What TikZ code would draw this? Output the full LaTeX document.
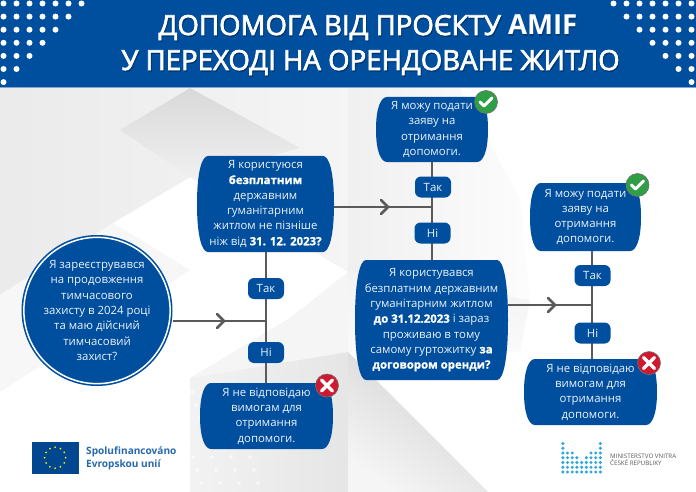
\documentclass[tikz,border=0pt]{standalone}
\usepackage{fontspec}
\setmainfont{Open Sans}
\newfontfamily\titlefont[FakeBold=2.5]{Open Sans}
\newfontfamily\heavyfont[FakeBold=1]{Open Sans Bold}
\usetikzlibrary{calc}
\definecolor{eublue}{HTML}{004F9F}
\definecolor{linegray}{HTML}{5A5A5A}
\definecolor{okgreen}{HTML}{2F9E44}
\definecolor{nored}{HTML}{D0182F}
\definecolor{mvblue}{HTML}{2FA8E0}
\definecolor{tbody}{HTML}{EEF2F8}
\newcommand{\hv}[1]{{\heavyfont\color{white}#1}}
\tikzset{
  x=1pt,y=-1pt,
  flowtext/.style={rectangle,text=tbody,inner sep=0pt,align=center,font=\fontsize{11.4}{15.3}\selectfont},
  yesno/.style={rectangle,rounded corners=6pt,fill=eublue,text=tbody,inner sep=0pt,minimum width=36pt,minimum height=21pt,font=\fontsize{11.4}{13}\selectfont},
  conn/.style={draw=linegray,line width=2pt},
  chev/.style={draw=linegray,line width=2.6pt,line cap=round,line join=round},
  badge/.style={circle,minimum size=23pt,inner sep=0pt,draw=black!55,line width=.6pt},
  titletxt/.style={text=white,font=\fontsize{27.6}{28}\titlefont,inner sep=0pt,anchor=base},
  logotxt/.style={anchor=base west,inner sep=0,text=eublue!85!white,font=\fontsize{10.1}{11}\selectfont\bfseries},
  mvtxt/.style={anchor=base west,inner sep=0,text=black!65,font=\fontsize{6.2}{7}\selectfont},
}
% name, x0, y0, x1, y1, side bulge, text
\newcommand{\flowbox}[7]{%
  \pgfmathsetmacro{\ym}{(#3+#5)/2}%
  \pgfmathsetmacro{\yc}{(#5-#3)*0.34}%
  \fill[eublue] ({#2+#6+3},#3) -- ({#4-#6-3},#3)
    .. controls ({#4-#6+3},#3) and (#4,{\ym-\yc}) .. (#4,\ym)
    .. controls (#4,{\ym+\yc}) and ({#4-#6+3},#5) .. ({#4-#6-3},#5)
    -- ({#2+#6+3},#5)
    .. controls ({#2+#6-3},#5) and (#2,{\ym+\yc}) .. (#2,\ym)
    .. controls (#2,{\ym-\yc}) and ({#2+#6-3},#3) .. ({#2+#6+3},#3) -- cycle;
  \node[flowtext,minimum width={(#4-#2)*1pt},minimum height={(#5-#3)*1pt}] (#1) at ({(#2+#4)/2},\ym) {#7};%
}
\begin{document}
\begin{tikzpicture}
\useasboundingbox (0,0) rectangle (696,492);
% background
\fill[white] (0,0) rectangle (696,492);
\shade[left color=black!8,right color=black!4] (0,88) -- (348,88) -- (348,272) -- (190,177) -- (113,223) -- (0,295) -- cycle;
\shade[left color=black!6,right color=black!1] (348,88) -- (460,88) -- (520,200) -- (530,300) -- (348,345) -- cycle;
\fill[black!3] (113,223) -- (190,270) -- (0,392) -- (0,295) -- cycle;
\fill[black!4] (190,378) -- (290,318) -- (348,272) -- (348,352) -- cycle;
\shade[top color=black!15,bottom color=black!6] (190,88) -- (300,148) -- (190,177) -- (120,130) -- cycle;
\shade[top color=black!5,bottom color=black!2] (348,272) -- (348,352) -- (520,352) -- (530,300) -- cycle;
\shade[left color=black!5,right color=black!10] (190,378) -- (348,352) -- (348,492) -- (190,492) -- cycle;
\shade[left color=black!18,right color=black!4,shading angle=-35] (348,352) -- (488,492) -- (348,492) -- cycle;
\foreach \i in {0,...,10}{\foreach \j in {0,...,7}{
  \fill[white,opacity=.55] ({40+19*\i+4*\j},{392+13*\j}) circle (2pt);
}}
\foreach \i in {0,...,6}{\foreach \j in {0,...,3}{
  \fill[white,opacity=.7] ({505+10*\i},{100+11*\j}) circle (1pt);
}}
% header
\fill[eublue] (0,0) rectangle (696,87);
\fill[eublue!50!white] (0,87) rectangle (696,88);
\foreach \r/\n in {0/7,1/6,2/5,3/4,4/3,5/2,6/1}{
  \foreach \c in {1,...,\n}{
    \fill[white] ({3.5+13*(\c-1)},{3.5+13.1*\r}) circle (3pt);
    \fill[white] ({691.5-13*(\c-1)},{3.5+13.1*\r}) circle (3pt);
  }
}
% title
\node[titletxt,text=black,opacity=.22] at (369,36.5) {ДОПОМОГА ВІД ПРОЄКТУ {\fontspec{Open Sans}\bfseries AMIF}};
\node[titletxt,text=black,opacity=.22] at (371.5,71.5) {У ПЕРЕХОДІ НА ОРЕНДОВАНЕ ЖИТЛО};
\node[titletxt] (t1) at (368,35) {ДОПОМОГА ВІД ПРОЄКТУ {\fontspec{Open Sans}\bfseries AMIF}};
\node[titletxt] (t2) at (370.5,70) {У ПЕРЕХОДІ НА ОРЕНДОВАНЕ ЖИТЛО};
% nodes
\node[circle,fill=eublue,minimum size=151pt,inner sep=0pt] (start) at (97,310.5) {};
\node[circle,draw=white,line width=1.5pt,minimum size=142pt,inner sep=0pt,align=center,text=tbody,font=\fontsize{11.4}{15.3}\selectfont] (startb) at (97,310.5)
  {Я зареєструвався\\на продовження\\тимчасового\\захисту в 2024 році\\та маю дійсний\\тимчасовий\\захист?};
\flowbox{q1}{197}{156}{334}{252}{8}{Я користуюся\\\hv{безплатним}\\державним\\гуманітарним\\житлом не пізніше\\ніж від \hv{31. 12. 2023?}}
\flowbox{ok1}{376}{97}{488}{162}{8}{Я можу подати\\заяву на\\отримання\\допомоги.}
\flowbox{q2}{355}{260}{508}{380}{8}{Я користувався\\безплатним державним\\гуманітарним житлом\\\hv{до 31.12.2023} і зараз\\проживаю в тому\\самому гуртожитку \hv{за}\\\hv{договором оренди?}}
\flowbox{ok2}{530}{183}{641}{251}{8}{Я можу подати\\заяву на\\отримання\\допомоги.}
\flowbox{no1}{200}{383}{333}{449}{8}{Я не відповідаю\\вимогам для\\отримання\\допомоги.}
\flowbox{no2}{524}{359}{657}{425}{8}{Я не відповідаю\\вимогам для\\отримання\\допомоги.}
% junctions
\coordinate (j1) at (266,321);
\coordinate (j2) at (432,207);
\coordinate (j3) at (592,305);
\coordinate (c1) at (224,321);
\coordinate (c2) at (388,207);
\coordinate (c3) at (555,305);
% connectors
\draw[conn] (q1.south -| j1) -- (no1.north -| j1);
\draw[conn] (ok1.south -| j2) -- (q2.north -| j2);
\draw[conn] (ok2.south -| j3) -- (no2.north -| j3);
\draw[conn] (start.east |- j1) -- (j1);
\draw[conn] (q1.east |- j2) -- (j2);
\draw[conn] (q2.east |- j3) -- (j3);
\foreach \c in {c1,c2,c3}{
  \draw[chev] ([shift={(-7,-7)}]\c) -- (\c) -- ([shift={(-7,7)}]\c);
}
\node[yesno] (tak1) at (266,288.5) {Так};
\node[yesno] (ni1) at (266,352.5) {Ні};
\node[yesno] (tak2) at (433,187) {Так};
\node[yesno] (ni2) at (432.5,233) {Ні};
\node[yesno] (tak3) at (592.5,275.5) {Так};
\node[yesno] (ni3) at (592.5,333) {Ні};
% badges
\foreach \n/\x/\y in {b1/486/102,b2/637.5/185}{
  \node[badge,fill=okgreen] (\n) at (\x,\y) {};
  \draw[white,line width=3pt,line cap=round,line join=round] ([shift={(-6,0)}]\n.center) -- ([shift={(-2,4)}]\n.center) -- ([shift={(6,-4)}]\n.center);
}
\foreach \n/\x/\y in {b3/327/385.5,b4/649/363}{
  \node[badge,fill=nored] (\n) at (\x,\y) {};
  \draw[white,line width=3.2pt,line cap=round] ([shift={(-5.5,-5.5)}]\n.center) -- ([shift={(5.5,5.5)}]\n.center);
  \draw[white,line width=3.2pt,line cap=round] ([shift={(-5.5,5.5)}]\n.center) -- ([shift={(5.5,-5.5)}]\n.center);
}
% EU logo
\fill[eublue!90!black] (32,442) rectangle (78.5,473.5);
\foreach \a in {0,30,...,330}{
  \fill[yellow!90!orange] ({55.2+10.5*cos(\a)},{457.7+10.5*sin(\a)}) circle (1pt);
}
\node[logotxt] (eu1) at (86,454) {Spolufinancováno};
\node[logotxt] (eu2) at (86,467) {Evropskou unií};
% MV logo
\foreach \col/\top in {0/0,1/2,2/2,3/3,4/4,5/3,6/2,7/2,8/0}{
  \foreach \k in {\top,...,6}{
    \fill[mvblue] ({562.8+4.7*\col},{443.5+4.75*\k}) circle (1.7pt);
  }
}
\node[mvtxt] (mv1) at (610,458.5) {MINISTERSTVO VNITRA};
\node[mvtxt] (mv2) at (610,465.5) {ČESKÉ REPUBLIKY};
\end{tikzpicture}
\end{document}
